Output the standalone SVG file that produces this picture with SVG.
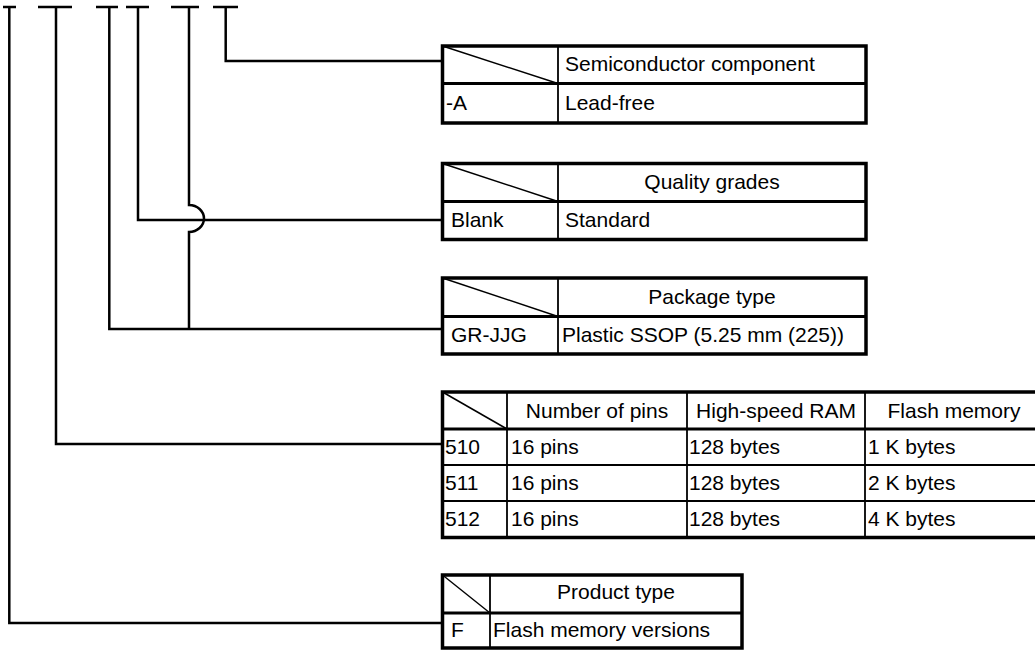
<svg xmlns="http://www.w3.org/2000/svg" width="1035" height="650" viewBox="0 0 1035 650">
<style>
.outer{fill:#fff;stroke:#000;stroke-width:3.5}
.thick{stroke:#000;stroke-width:3;fill:none}
.thin{stroke:#000;stroke-width:1.8;fill:none}
.diag{stroke:#000;stroke-width:1.5;fill:none}
.mid{stroke:#000;stroke-width:2.2;fill:none}
.conn{stroke:#000;stroke-width:2.5;fill:none}
text{font-family:"Liberation Sans",Arial,Helvetica,sans-serif;font-size:21px;fill:#000}
.c{text-anchor:middle}
</style>
<rect width="1035" height="650" fill="#fff"/>
<g id="connectors">
<path class="conn" d="M3,7H16M9.3,7V623H443"/>
<path class="conn" d="M38,7H72M56,7V444H443"/>
<path class="conn" d="M96,7H118M109.3,7V329H443"/>
<path class="conn" d="M126,7H149M138,7V220H443"/>
<path class="conn" d="M171,7H199M189,7V205A15,13.5 0 0 1 189,232V329"/>
<path class="conn" d="M213,7H238M225.7,7V61H443"/>
</g>
<g id="semiconductor">
<rect class="outer" x="442.5" y="46" width="423.5" height="77"/>
<line class="thick" x1="442.5" y1="83.5" x2="866" y2="83.5"/>
<line class="thin" x1="558" y1="46" x2="558" y2="123"/>
<line class="diag" x1="442.5" y1="46" x2="558" y2="83.5"/>
<text x="565" y="71">Semiconductor component</text>
<text x="446" y="110">-A</text>
<text x="565" y="110">Lead-free</text>
</g>
<g id="quality">
<rect class="outer" x="442.5" y="163.5" width="423.5" height="76"/>
<line class="thick" x1="442.5" y1="201.5" x2="866" y2="201.5"/>
<line class="thin" x1="558" y1="163.5" x2="558" y2="239.5"/>
<line class="diag" x1="442.5" y1="163.5" x2="558" y2="201.5"/>
<text class="c" x="712" y="189">Quality grades</text>
<text x="451" y="227">Blank</text>
<text x="565" y="227">Standard</text>
</g>
<g id="package">
<rect class="outer" x="442.5" y="278" width="423.5" height="76"/>
<line class="thick" x1="442.5" y1="316.5" x2="866" y2="316.5"/>
<line class="thin" x1="558" y1="278" x2="558" y2="354"/>
<line class="diag" x1="442.5" y1="278" x2="558" y2="316.5"/>
<text class="c" x="712" y="304">Package type</text>
<text x="451" y="342">GR-JJG</text>
<text x="562" y="342">Plastic SSOP (5.25 mm (225))</text>
</g>
<g id="pins">
<rect class="outer" x="442.5" y="392" width="602" height="145.5"/>
<line class="thick" x1="442.5" y1="429" x2="1045" y2="429"/>
<line class="mid" x1="442.5" y1="465" x2="1045" y2="465"/>
<line class="mid" x1="442.5" y1="501" x2="1045" y2="501"/>
<line class="thin" x1="507" y1="392" x2="507" y2="537.5"/>
<line class="thin" x1="687" y1="392" x2="687" y2="537.5"/>
<line class="thin" x1="865" y1="392" x2="865" y2="537.5"/>
<line class="diag" x1="442.5" y1="392" x2="507" y2="429"/>
<text class="c" x="597" y="418">Number of pins</text>
<text class="c" x="776" y="418">High-speed RAM</text>
<text class="c" x="954" y="418">Flash memory</text>
<text x="445" y="454">510</text><text x="511" y="454">16 pins</text><text x="689" y="454">128 bytes</text><text x="868" y="454">1 K bytes</text>
<text x="445" y="490">511</text><text x="511" y="490">16 pins</text><text x="689" y="490">128 bytes</text><text x="868" y="490">2 K bytes</text>
<text x="445" y="526">512</text><text x="511" y="526">16 pins</text><text x="689" y="526">128 bytes</text><text x="868" y="526">4 K bytes</text>
</g>
<g id="product">
<rect class="outer" x="442.5" y="575" width="299.5" height="73"/>
<line class="thick" x1="442.5" y1="613" x2="742" y2="613"/>
<line class="thin" x1="490" y1="575" x2="490" y2="648"/>
<line class="diag" x1="442.5" y1="575" x2="490" y2="613"/>
<text class="c" x="616" y="599">Product type</text>
<text x="451" y="637">F</text>
<text x="493" y="637">Flash memory versions</text>
</g>
</svg>
